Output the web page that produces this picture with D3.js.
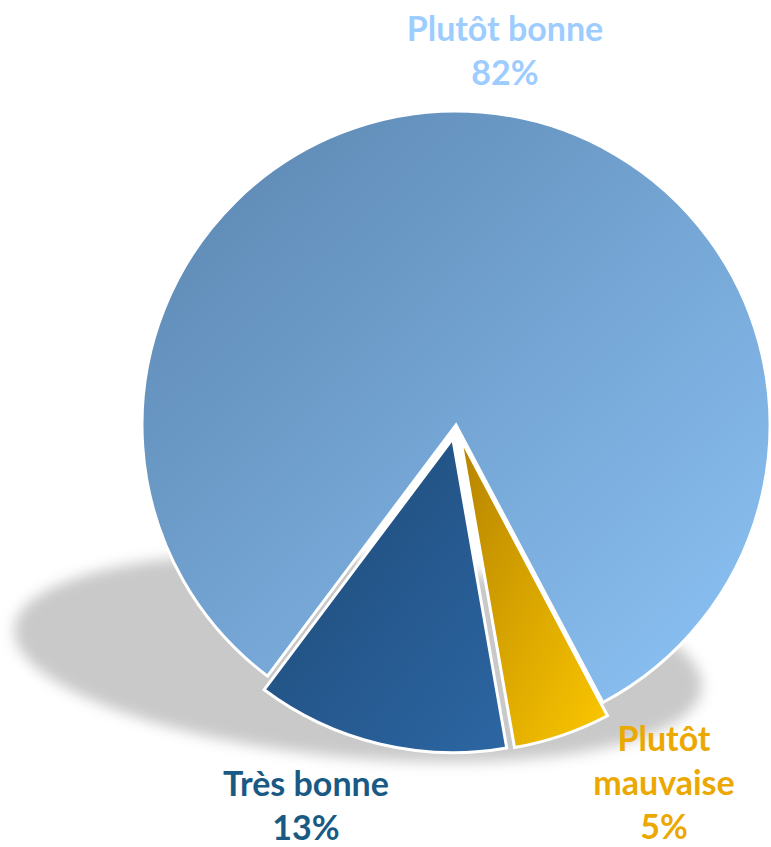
<!DOCTYPE html>
<html>
<head>
<meta charset="utf-8">
<script src="https://cdn.jsdelivr.net/npm/d3@7"></script>
<style>
  body { margin: 0; background: #fff; }
  text { font-family: Lato, "Open Sans", sans-serif; font-weight: bold; }
</style>
</head>
<body>
<div id="chart"></div>
<script>
// Chart data
const categories = ['Plutôt bonne', 'Plutôt mauvaise', 'Très bonne'];
const values = [82, 5, 13];
const labelLines = [['Plutôt bonne', '82%'], ['Plutôt', 'mauvaise', '5%'], ['Très bonne', '13%']];

const width = 771, height = 847;
const cx = 456, cy = 425, radius = 314;

// colours for each slice: [top-left, bottom-right, label]
const colors = [
  ['#5a84ae', '#8dc4f7', '#9dcdff'],
  ['#b58300', '#fdc800', '#eba800'],
  ['#1e4976', '#2c66a3', '#195a84']
];
const explode = [0, 14, 14];
// label anchor (centre x, first baseline y)
const labelPos = [[505, 41], [664, 751], [306, 796]];
const lineGap = 44;

const svg = d3.select('#chart')
  .append('svg')
  .attr('width', width)
  .attr('height', height);

const defs = svg.append('defs');

const blur = defs.append('filter')
  .attr('id', 'blur')
  .attr('x', '-20%').attr('y', '-50%')
  .attr('width', '140%').attr('height', '200%');
blur.append('feGaussianBlur').attr('stdDeviation', 7);

colors.forEach((c, i) => {
  const g = defs.append('linearGradient')
    .attr('id', 'grad' + i)
    .attr('x1', 0).attr('y1', 0)
    .attr('x2', 1).attr('y2', 1);
  g.append('stop').attr('offset', '0%').attr('stop-color', c[0]);
  g.append('stop').attr('offset', '100%').attr('stop-color', c[1]);
});

// shadow below the pie
svg.append('ellipse')
  .attr('cx', 358)
  .attr('cy', 658)
  .attr('rx', 345)
  .attr('ry', 100)
  .attr('transform', 'rotate(5 358 658)')
  .attr('fill', '#c9c9c9')
  .attr('filter', 'url(#blur)');

const pie = d3.pie()
  .sort(null)
  .startAngle(-143.1 * Math.PI / 180)
  .endAngle((360 - 143.1) * Math.PI / 180);

const arc = d3.arc()
  .innerRadius(0)
  .outerRadius(radius);

const arcs = pie(values);

svg.selectAll('.slice')
  .data(arcs)
  .enter()
  .append('path')
  .attr('class', 'slice')
  .attr('transform', (d, i) => {
    const a = (d.startAngle + d.endAngle) / 2;
    const dx = Math.sin(a) * explode[i];
    const dy = -Math.cos(a) * explode[i];
    return `translate(${cx + dx},${cy + dy})`;
  })
  .attr('d', arc)
  .attr('fill', (d, i) => `url(#grad${i})`)
  .attr('stroke', '#fff')
  .attr('stroke-width', 3)
  .attr('stroke-linejoin', 'miter');

// labels
const labels = svg.selectAll('.label')
  .data(categories)
  .enter()
  .append('text')
  .attr('class', 'label')
  .attr('text-anchor', 'middle')
  .attr('font-size', 34)
  .attr('fill', (d, i) => colors[i][2]);

labels.each(function (d, i) {
  const t = d3.select(this);
  labelLines[i].forEach((line, j) => {
    t.append('tspan')
      .attr('x', labelPos[i][0])
      .attr('y', labelPos[i][1] + j * lineGap)
      .text(line);
  });
});
</script>
</body>
</html>
